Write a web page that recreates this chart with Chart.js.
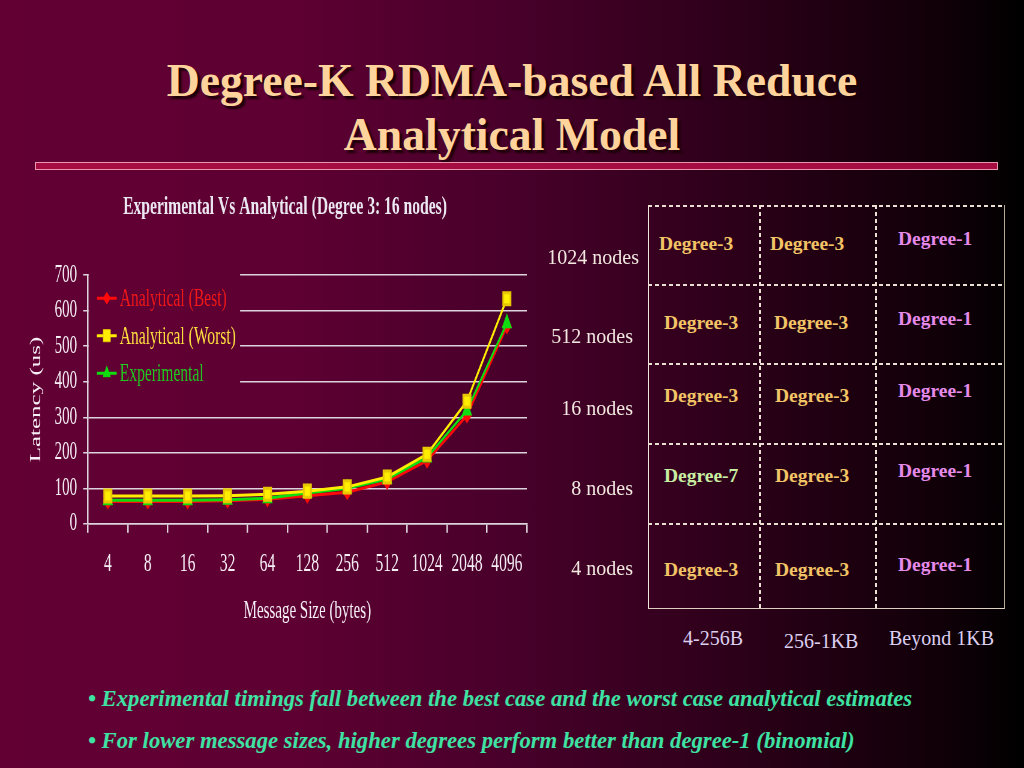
<!DOCTYPE html>
<html>
<head>
<meta charset="utf-8">
<script src="https://cdn.jsdelivr.net/npm/chart.js@4.4.0/dist/chart.umd.min.js"></script>
<style>
  html, body { margin: 0; padding: 0; }
  body {
    width: 1024px; height: 768px; overflow: hidden; position: relative;
    background: linear-gradient(to right, #620034 0%, #5e0032 28%, #48002a 50%, #2c0019 72%, #100008 92%, #000 100%);
    font-family: "Liberation Serif", "Times New Roman", serif;
  }
  #title {
    position: absolute; left: 0; top: 54px; width: 1024px; text-align: center;
    font-size: 45.7px; font-weight: bold; line-height: 54px; color: #ffd49c;
    text-shadow: 3px 3px 2px #1c0008;
  }
  #bar {
    position: absolute; left: 35px; top: 162px; width: 961px; height: 6px;
    background: #a50d42; border: 1.5px solid #e995ad;
  }
  #chartWrap {
    position: absolute; left: 15px; top: 190px; width: 900px; height: 440px;
    transform: scaleX(0.6); transform-origin: 0 0;
  }
  .abs { position: absolute; white-space: nowrap; }
  .hd { height: 1.5px; background: repeating-linear-gradient(to right, #eadfd2 0 4px, transparent 4px 7px); }
  .vd { width: 1.5px; background: repeating-linear-gradient(to bottom, #eadfd2 0 4px, transparent 4px 7px); }
  .cell { font-size: 19.5px; font-weight: bold; line-height: 24px; }
  .rowlab { font-size: 20px; line-height: 24px; color: #f2e8e0; text-align: right; }
  .collab { font-size: 20px; line-height: 24px; color: #dccff0; }
  .bullet { font-size: 22.7px; font-weight: bold; font-style: italic; color: #3ee2a2; line-height: 26px; }
</style>
</head>
<body>
<div id="title">Degree-K RDMA-based All Reduce<br>Analytical Model</div>
<div id="bar"></div>
<div id="chartWrap"><canvas id="c" width="900" height="440"></canvas></div>
<div id="table"></div>
<div id="bullets"></div>
<script>
// ---- chart data ----
const messageSizes = ['4', '8', '16', '32', '64', '128', '256', '512', '1024', '2048', '4096'];
const analyticalBest  = [63, 63, 63, 65, 69, 79, 89, 118, 178, 305, 556];
const analyticalWorst = [78, 78, 78, 79, 83, 92, 104, 132, 196, 345, 634];
const experimental    = [66, 66, 66, 68, 72, 87, 100, 126, 187, 319, 565];
const seriesNames = ['Analytical (Best)', 'Analytical (Worst)', 'Experimental'];
const yTicks = [0, 100, 200, 300, 400, 500, 600, 700];

// ---- table data ----
const nodeLabels = ['1024 nodes', '512 nodes', '16 nodes', '8 nodes', '4 nodes'];
const rangeLabels = ['4-256B', '256-1KB', 'Beyond 1KB'];
const bestDegree = [
  ['Degree-3', 'Degree-3', 'Degree-1'],
  ['Degree-3', 'Degree-3', 'Degree-1'],
  ['Degree-3', 'Degree-3', 'Degree-1'],
  ['Degree-7', 'Degree-3', 'Degree-1'],
  ['Degree-3', 'Degree-3', 'Degree-1']
];
const bulletTexts = [
  '\u2022 Experimental timings fall between the best case and the worst case analytical estimates',
  '\u2022 For lower message sizes, higher degrees perform better than degree-1 (binomial)'
];

const FONT = '"Liberation Serif", "Times New Roman", serif';
const AX = '#dcd3dc';
const TXT = '#f6eff6';

const insideLegend = {
  id: 'insideLegend',
  beforeDatasetsDraw(chart, args, o) {
    const { ctx, chartArea } = chart;
    const x0 = chartArea.left, y0 = chartArea.top;
    ctx.save();
    ctx.globalCompositeOperation = 'destination-out';
    ctx.fillStyle = '#000';
    ctx.fillRect(x0 + 1.6, y0 - 3, o.boxWidth, o.boxHeight);
    ctx.restore();
    ctx.save();
    chart.data.datasets.forEach((ds, i) => {
      const y = y0 + o.firstOffset + i * o.spacing;
      ctx.strokeStyle = ds.borderColor;
      ctx.lineWidth = ds.borderWidth;
      ctx.beginPath();
      ctx.moveTo(x0 + o.lineStart, y);
      ctx.lineTo(x0 + o.lineEnd, y);
      ctx.stroke();
      ctx.fillStyle = ds.pointBackgroundColor;
      ctx.strokeStyle = ds.pointBorderColor;
      ctx.lineWidth = 1;
      Chart.helpers.drawPoint(ctx, { pointStyle: ds.pointStyle, radius: ds.pointRadius, borderWidth: 1, rotation: 0 },
        x0 + (o.lineStart + o.lineEnd) / 2, y);
      ctx.fillStyle = ds.legendTextColor;
      ctx.font = o.font;
      ctx.textBaseline = 'middle';
      ctx.textAlign = 'left';
      ctx.fillText(ds.label, x0 + o.textStart, y + 1);
    });
    ctx.restore();
  }
};

new Chart(document.getElementById('c'), {
  type: 'line',
  data: {
    labels: messageSizes,
    datasets: [
      { label: seriesNames[0], data: analyticalBest, borderColor: '#ff0a0a', backgroundColor: '#ff0a0a',
        pointBackgroundColor: '#ff0a0a', pointBorderColor: '#ff0a0a', pointStyle: 'rectRot', pointRadius: 6,
        borderWidth: 3, order: 3, legendTextColor: '#f01818' },
      { label: seriesNames[1], data: analyticalWorst, borderColor: '#ffee00', backgroundColor: '#ffee00',
        pointBackgroundColor: '#ffee00', pointBorderColor: '#e8c800', pointStyle: 'rect', pointRadius: 8.5,
        borderWidth: 3, order: 1, legendTextColor: '#ffe040' },
      { label: seriesNames[2], data: experimental, borderColor: '#10dd10', backgroundColor: '#10dd10',
        pointBackgroundColor: '#10dd10', pointBorderColor: '#10dd10', pointStyle: 'triangle', pointRadius: 7,
        borderWidth: 3, order: 2, legendTextColor: '#20c820' }
    ]
  },
  options: {
    responsive: false,
    animation: false,
    devicePixelRatio: 1,
    layout: { padding: { left: 47, right: 47, top: 0, bottom: 0 } },
    plugins: {
      legend: { display: false },
      tooltip: { enabled: false },
      title: {
        display: true, text: 'Experimental Vs Analytical (Degree 3: 16 nodes)',
        color: '#ebe8f2', font: { family: FONT, size: 26, weight: 'bold' },
        padding: { top: 2, bottom: 52 }
      },
      insideLegend: {
        boxWidth: 252, boxHeight: 127, firstOffset: 23, spacing: 37.5,
        lineStart: 15, lineEnd: 48, textStart: 53, font: '26px ' + FONT
      }
    },
    scales: {
      x: {
        offset: true,
        grid: { offset: true, drawOnChartArea: false, drawTicks: true, tickLength: 9, color: AX, lineWidth: 2.5 },
        border: { display: true, color: AX, width: 1.5 },
        ticks: { color: TXT, font: { family: FONT, size: 26 }, padding: 16, maxRotation: 0, autoSkip: false },
        title: { display: true, text: 'Message Size (bytes)', color: TXT, font: { family: FONT, size: 25 },
                 padding: { top: 0, bottom: 4 } }
      },
      y: {
        min: yTicks[0], max: yTicks[yTicks.length - 1],
        afterBuildTicks: (s) => { s.ticks = yTicks.map(v => ({ value: v })); },
        grid: { color: AX, lineWidth: 1.5, tickLength: 8 },
        border: { display: true, color: AX, width: 2.5 },
        ticks: { color: TXT, font: { family: FONT, size: 25 }, padding: 10 },
        title: { display: true, text: 'Latency (us)', color: TXT, font: { family: FONT, size: 25 },
                 padding: { top: -27, bottom: 6 } }
      }
    }
  },
  plugins: [insideLegend]
});

// ---- table layout ----
const tbl = document.getElementById('table');
function add(cls, text, style) {
  const d = document.createElement('div');
  d.className = 'abs ' + cls;
  if (text) d.textContent = text;
  Object.assign(d.style, style);
  tbl.appendChild(d);
  return d;
}
const T = { left: 648, top: 205, right: 1005, bottom: 609 };
const colLines = [759, 875];
const rowLines = [284, 363, 443, 523];
add('', '', { left: T.left + 'px', top: T.top + 'px', width: (T.right - T.left) + 'px', height: (T.bottom - T.top) + 'px',
  borderLeft: '1.5px solid #f0e6dc', borderRight: '1.5px solid #b4aa96', borderBottom: '1.5px solid #ddd0c0', boxSizing: 'border-box' });
add('hd', '', { left: T.left + 'px', top: T.top + 'px', width: (T.right - T.left) + 'px' });
rowLines.forEach(y => add('hd', '', { left: T.left + 'px', top: y + 'px', width: (T.right - T.left) + 'px' }));
colLines.forEach(x => add('vd', '', { left: x + 'px', top: T.top + 'px', height: (T.bottom - T.top) + 'px' }));

const degColor = { 'Degree-3': '#f2c466', 'Degree-1': '#e68aea', 'Degree-7': '#c8eea2' };
const cellX = [[659, 770, 898], [664, 774, 898], [664, 775, 898], [664, 775, 898], [664, 775, 898]];
const cellY = [[244, 244, 239], [323, 323, 319], [396, 396, 391], [476, 476, 471], [570, 570, 565]];
bestDegree.forEach((row, r) => row.forEach((txt, c) => {
  add('cell', txt, { left: cellX[r][c] + 'px', top: (cellY[r][c] - 12) + 'px', color: degColor[txt] });
}));
const rowLabY = [257, 336, 408, 488, 568];
const rowLabR = [639, 633, 633, 633, 633];
nodeLabels.forEach((t, i) => add('rowlab', t, { right: (1024 - rowLabR[i]) + 'px', top: (rowLabY[i] - 12) + 'px' }));
const colLabX = [683, 784, 889];
const colLabY = [638, 641, 638];
rangeLabels.forEach((t, i) => add('collab', t, { left: colLabX[i] + 'px', top: (colLabY[i] - 12) + 'px' }));

// ---- bullets ----
const bl = document.getElementById('bullets');
const bulletY = [699, 741];
bulletTexts.forEach((t, i) => {
  const d = document.createElement('div');
  d.className = 'abs bullet';
  d.textContent = t;
  d.style.left = '88px';
  d.style.top = (bulletY[i] - 13) + 'px';
  bl.appendChild(d);
});
</script>
</body>
</html>
